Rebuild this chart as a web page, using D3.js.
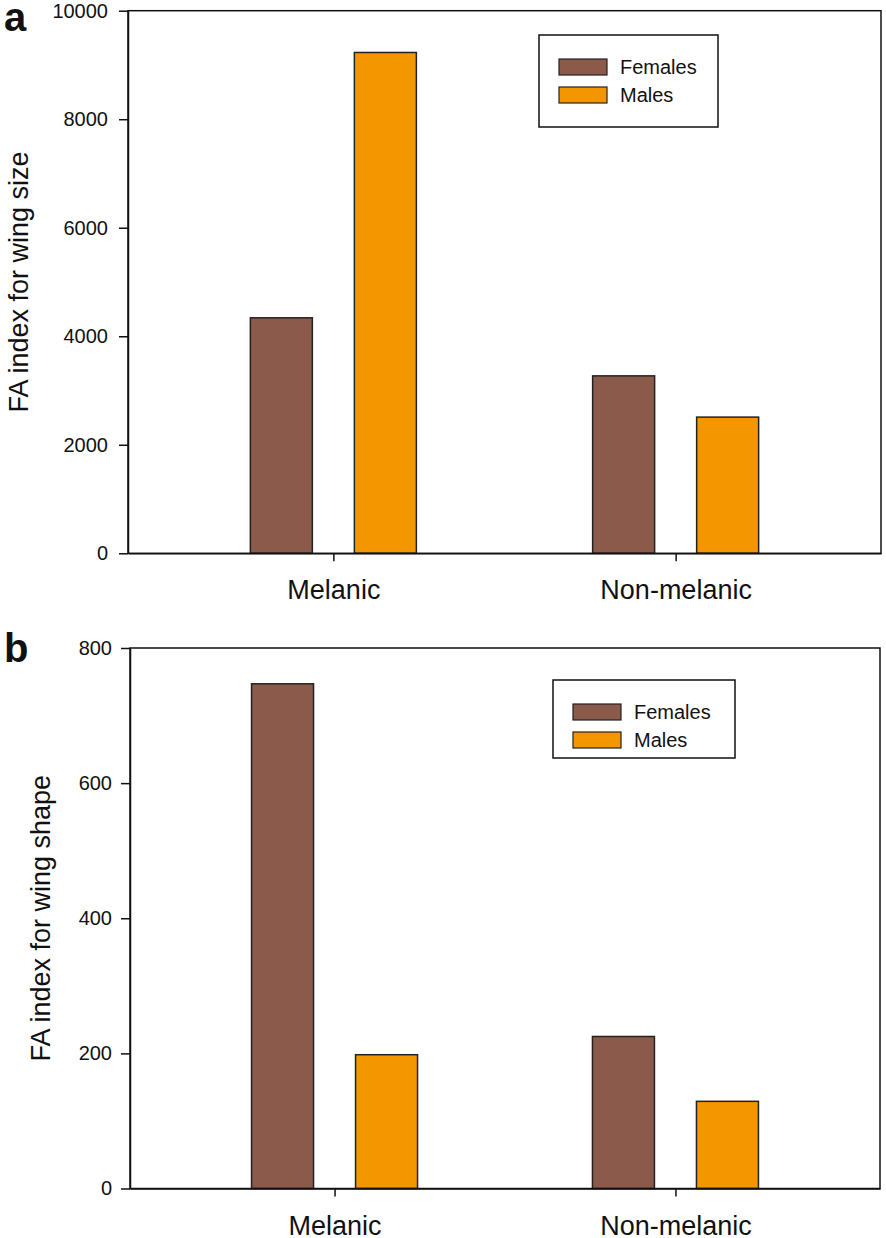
<!DOCTYPE html>
<html>
<head>
<meta charset="utf-8">
<script src="https://cdn.jsdelivr.net/npm/d3@7"></script>
<style>
  body { margin: 0; background: #fff; }
  svg { display: block; font-family: "Liberation Sans", Arial, sans-serif; }
</style>
</head>
<body>
<div id="chart"></div>
<script>
const groups = ["Melanic", "Non-melanic"];
const sexes = ["Females", "Males"];

// panel a: FA index for wing size
const sizeFemales = [4340, 3270];
const sizeMales = [9230, 2510];
const sizeTicks = [0, 2000, 4000, 6000, 8000, 10000];

// panel b: FA index for wing shape
const shapeFemales = [747, 225];
const shapeMales = [198, 129];
const shapeTicks = [0, 200, 400, 600, 800];

const width = 886, height = 1238;

const color = d3.scaleOrdinal()
    .domain(sexes)
    .range(["#8c5a4a", "#f49600"]);

const svg = d3.select("#chart")
    .append("svg")
    .attr("width", width)
    .attr("height", height);

function drawPanel(p) {
    const g = svg.append("g");

    const x0 = d3.scalePoint()
        .domain(groups)
        .range([p.left, p.right])
        .padding(0.6);

    const x1 = d3.scaleBand()
        .domain(sexes)
        .range([-83, 83])
        .paddingInner(0.404);

    const y = d3.scaleLinear()
        .domain([0, d3.max(p.ticks)])
        .range([p.bottom, p.top]);

    const rows = groups.map((grp, i) => ({
        group: grp,
        values: [
            { sex: "Females", value: p.females[i] },
            { sex: "Males", value: p.males[i] }
        ]
    }));

    // bars
    g.selectAll("g.grp")
        .data(rows)
        .join("g")
        .attr("class", "grp")
        .attr("transform", d => `translate(${x0(d.group)},0)`)
        .selectAll("rect")
        .data(d => d.values)
        .join("rect")
        .attr("x", d => x1(d.sex))
        .attr("width", x1.bandwidth())
        .attr("y", d => y(d.value))
        .attr("height", d => y(0) - y(d.value))
        .attr("fill", d => color(d.sex))
        .attr("stroke", "#222")
        .attr("stroke-width", 1.5);

    // frame (top + right)
    g.append("rect")
        .attr("x", p.left)
        .attr("y", p.top)
        .attr("width", p.right - p.left)
        .attr("height", p.bottom - p.top)
        .attr("fill", "none")
        .attr("stroke", "#111")
        .attr("stroke-width", 1.5);

    const yAxis = g.append("g")
        .attr("transform", `translate(${p.left},0)`)
        .call(d3.axisLeft(y).tickValues(p.ticks).tickSize(9).tickSizeOuter(0).tickPadding(p.tickPad).tickFormat(d3.format("d")));
    yAxis.selectAll("text").style("font-size", "20px").attr("fill", "#111");
    yAxis.selectAll("line, path").attr("stroke", "#111").attr("stroke-width", 1.5);

    const xAxis = g.append("g")
        .attr("transform", `translate(0,${p.bottom})`)
        .call(d3.axisBottom(x0).tickSize(8).tickSizeOuter(0).tickPadding(19));
    xAxis.selectAll("text").style("font-size", "27px").attr("fill", "#111");
    xAxis.selectAll("line, path").attr("stroke", "#111").attr("stroke-width", 1.5);

    // y title
    g.append("text")
        .attr("transform", `translate(${p.titleX},${(p.top + p.bottom) / 2}) rotate(-90)`)
        .attr("text-anchor", "middle")
        .style("font-size", "27px")
        .attr("fill", "#111")
        .text(p.title);

    // panel letter
    g.append("text")
        .attr("x", 4)
        .attr("y", p.letterY)
        .style("font-size", "40px")
        .style("font-weight", "bold")
        .attr("fill", "#111")
        .text(p.letter);

    // legend
    const legend = g.append("g")
        .attr("transform", `translate(${p.legend.x},${p.legend.y})`);

    legend.append("rect")
        .attr("width", p.legend.w)
        .attr("height", p.legend.h)
        .attr("fill", "#fff")
        .attr("stroke", "#111")
        .attr("stroke-width", 1.5);

    sexes.forEach((s, i) => {
        const row = legend.append("g")
            .attr("transform", `translate(20, ${24 + i * 28})`);
        row.append("rect")
            .attr("width", 48)
            .attr("height", 16)
            .attr("fill", color(s))
            .attr("stroke", "#222")
            .attr("stroke-width", 1.2);
        row.append("text")
            .attr("x", 61)
            .attr("y", 8)
            .attr("dy", "0.36em")
            .style("font-size", "20px")
            .attr("fill", "#111")
            .text(s);
    });
}

drawPanel({
    letter: "a", letterY: 31,
    left: 128, right: 881, top: 10.7, bottom: 553.3,
    females: sizeFemales, males: sizeMales, ticks: sizeTicks,
    title: "FA index for wing size", titleX: 28, tickPad: 11,
    legend: { x: 539, y: 35, w: 179, h: 92 }
});

drawPanel({
    letter: "b", letterY: 662,
    left: 130, right: 880, top: 648, bottom: 1188.5,
    females: shapeFemales, males: shapeMales, ticks: shapeTicks,
    title: "FA index for wing shape", titleX: 50, tickPad: 9,
    legend: { x: 553, y: 680, w: 182, h: 78 }
});
</script>
</body>
</html>
